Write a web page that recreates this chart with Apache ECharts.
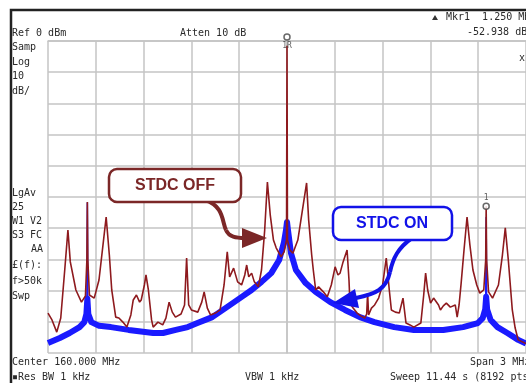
<!DOCTYPE html>
<html>
<head>
<meta charset="utf-8">
<script src="https://cdn.jsdelivr.net/npm/echarts@6/dist/echarts.min.js"></script>
<style>
html,body{margin:0;padding:0;background:#fff;}
#chart{width:526px;height:383px;}
</style>
</head>
<body>
<div id="chart"></div>
<script>
// offset from center (kHz), level (dBm)
var offTrace = [
	[-1500,-87.2],[-1475,-89.4],[-1445,-93.3],[-1420,-88.8],[-1395,-73.4],[-1375,-60.6],[-1360,-70.8],[-1325,-79.8],
	[-1290,-83.7],[-1265,-81.7],[-1256,-70.2],[-1253,-51.6],[-1250,-70.2],[-1240,-81.4],[-1210,-82.4],[-1180,-76.6],
	[-1155,-65.4],[-1135,-56.4],[-1115,-68.6],[-1100,-79.8],[-1075,-88.5],[-1055,-88.8],[-1030,-90.1],[-1005,-91.7],
	[-980,-87.8],[-965,-83.0],[-945,-81.4],[-925,-83.7],[-915,-83.0],[-895,-78.2],[-885,-75.0],[-870,-79.8],
	[-850,-89.4],[-840,-91.7],[-810,-90.1],[-780,-91.0],[-760,-88.8],[-740,-83.7],[-720,-86.9],[-700,-88.5],
	[-665,-87.5],[-643,-84.6],[-630,-69.6],[-617,-84.6],[-600,-86.2],[-560,-86.9],[-535,-83.7],[-520,-80.4],
	[-500,-85.6],[-480,-87.8],[-450,-87.2],[-420,-86.2],[-395,-78.2],[-375,-67.6],[-360,-75.6],[-335,-72.8],
	[-310,-77.2],[-285,-78.2],[-265,-75.0],[-253,-71.8],[-240,-75.6],[-222,-74.4],[-205,-77.2],[-180,-78.8],
	[-160,-73.4],[-140,-60.6],[-123,-45.2],[-105,-55.8],[-85,-63.8],[-68,-66.3],[-37,-69.2],[-18,-67.6],
	[-3,-63.8],[0,-1.5],[3,-63.8],[18,-67.0],[37,-68.0],[68,-63.8],[92,-55.8],[123,-45.5],
	[136,-57.4],[155,-68.6],[165,-73.4],[180,-79.8],[198,-78.8],[210,-78.2],[228,-80.4],[253,-82.0],
	[278,-78.2],[302,-72.4],[320,-75.0],[333,-74.4],[352,-70.8],[377,-67.0],[389,-76.6],[395,-84.0],
	[415,-85.6],[440,-87.2],[463,-88.1],[488,-88.8],[500,-87.5],[506,-80.8],[512,-87.8],[530,-85.6],
	[550,-84.6],[575,-82.4],[600,-78.2],[623,-69.6],[642,-79.8],[655,-86.2],[680,-86.9],[705,-87.2],
	[728,-82.4],[747,-90.4],[772,-91.0],[796,-91.7],[840,-90.4],[858,-81.4],[870,-74.4],[883,-79.8],
	[901,-84.0],[920,-82.4],[932,-82.0],[951,-84.6],[963,-86.2],[981,-84.9],[1000,-84.0],[1025,-85.3],
	[1056,-84.6],[1068,-88.5],[1080,-84.6],[1093,-77.6],[1111,-67.0],[1130,-56.4],[1148,-65.4],[1167,-73.4],
	[1191,-78.2],[1210,-80.8],[1235,-79.8],[1247,-70.2],[1250,-53.0],[1253,-70.2],[1265,-80.4],[1290,-82.4],
	[1302,-83.0],[1327,-78.2],[1352,-68.6],[1370,-59.9],[1389,-70.2],[1414,-86.2],[1432,-92.0],[1451,-95.8],
	[1500,-97.0]
];
var onTrace = [
	[-1500,-96.8],[-1426,-95.2],[-1364,-93.6],[-1302,-91.7],[-1272,-90.1],[-1259,-87.5],[-1253,-82.5],[-1247,-87.5],
	[-1228,-90.1],[-1179,-91.3],[-1105,-91.7],[-994,-92.6],[-840,-93.6],[-778,-93.6],[-698,-92.6],[-623,-91.7],
	[-562,-90.4],[-469,-88.5],[-377,-85.3],[-284,-82.0],[-222,-79.8],[-160,-77.2],[-99,-74.4],[-49,-70.2],
	[-19,-64.5],[-6,-60.5],[0,-58.0],[6,-60.5],[25,-68.0],[56,-73.4],[117,-77.6],[179,-80.4],
	[272,-83.7],[364,-86.2],[457,-88.5],[549,-90.1],[673,-91.7],[796,-92.6],[981,-92.6],[1105,-91.7],
	[1198,-90.4],[1228,-88.8],[1244,-86.0],[1250,-82.0],[1256,-86.0],[1278,-89.4],[1321,-91.7],[1383,-93.6],
	[1451,-95.8],[1500,-97.0]
];
// narrow spur tops of the STDC ON trace
var onSpurLeft = [[-1256,-84.0],[-1253,-51.8],[-1250,-84.0]];
var onSpurRight = [[1247,-84.0],[1250,-56.4],[1253,-84.0]];
var markers = [
	{name:'1R', value:[0, 1.3], pos:'bottom'},
	{name:'1', value:[1250, -53.0], pos:'top'}
];
var leftNotes = [
	['Samp',47],['Log',62],['10',76],['dB/',91],['LgAv',193],['25',207],['W1 V2',221],['S3 FC',235],
	['£(f):',265],['f>50k',281],['Swp',296]
];

function each(arr, fn){
	for(var i=0;i<arr.length;i++){ fn(arr[i]); }
}

function txt(s, x, y, align){
	return {
		type:'text', x:x, y:y, z:50,
		style:{text:s, fill:'#2a2a2a', font:'10px "DejaVu Sans Mono"', textAlign:align||'left', textVerticalAlign:'middle'}
	};
}

function curve(p, color){
	return {type:'bezierCurve', z:70,
		shape:{x1:p[0],y1:p[1],cpx1:p[2],cpy1:p[3],cpx2:p[4],cpy2:p[5],x2:p[6],y2:p[7]},
		style:{stroke:color, lineWidth:4, fill:null}};
}

function buildGraphic(){
	var g = [];
	// outer frame
	g.push({type:'polyline', z:60, shape:{points:[[11,383],[11,10],[526,10]]}, style:{stroke:'#222', lineWidth:2.5, fill:null}});
	g.push(txt('Ref 0 dBm',12,33));
	g.push(txt('Atten 10 dB',180,33));
	g.push({type:'polygon', z:50, shape:{points:[[432,20],[438,20],[435,15]]}, style:{fill:'#333'}});
	g.push(txt('Mkr1  1.250 MHz',446,17));
	g.push(txt('-52.938 dB',467,32));
	g.push(txt('x',519,58));
	each(leftNotes, function(n){ g.push(txt(n[0],12,n[1])); });
	g.push(txt('AA',31,249));
	g.push(txt('Center 160.000 MHz',12,362));
	g.push(txt('\u25aaRes BW 1 kHz',12,377));
	g.push(txt('VBW 1 kHz',245,377));
	g.push(txt('Span 3 MHz',470,362));
	g.push(txt('Sweep 11.44 s (8192 pts)',390,377));

	// STDC OFF callout
	var red = '#7b2727', blue = '#1212e8';
	g.push(curve([205,200, 224,206, 222,222, 226,230], red));
	g.push(curve([226,230, 229,237, 236,238, 245,238], red));
	g.push({type:'polygon', z:70, shape:{points:[[267,238],[242,228],[242,248]]}, style:{fill:red}});
	g.push({type:'rect', z:71, shape:{x:109,y:169,width:132,height:33,r:8}, style:{fill:'#fff', stroke:red, lineWidth:2.5}});
	g.push({type:'text', z:72, x:175, y:186, style:{text:'STDC OFF', fill:red, font:'bold 16px "Liberation Sans"', textAlign:'center', textVerticalAlign:'middle'}});

	// STDC ON callout
	g.push(curve([412,238, 398,248, 393,258, 390,272], blue));
	g.push(curve([390,272, 386,290, 375,294, 356,298], blue));
	g.push({type:'polygon', z:70, shape:{points:[[333,303],[355,289],[359,308]]}, style:{fill:blue}});
	g.push({type:'rect', z:71, shape:{x:333,y:207,width:119,height:33,r:8}, style:{fill:'#fff', stroke:blue, lineWidth:2.5}});
	g.push({type:'text', z:72, x:392, y:224, style:{text:'STDC ON', fill:blue, font:'bold 16px "Liberation Sans"', textAlign:'center', textVerticalAlign:'middle'}});
	return g;
}

function showSpectrum(id){
	var gridColor = '#c4c4c4';
	var mkData = [];
	each(markers, function(m){
		mkData.push({value:m.value, label:{show:true, formatter:m.name, position:m.pos, distance:1, fontSize:8, color:'#333', fontFamily:'DejaVu Sans Mono'}});
	});
	var spurStyle = {color:'#1a1aff', width:1.5};
	echarts.init(document.getElementById(id)).setOption({
		animation:false,
		grid:{left:48, top:41, width:486, height:312},
		xAxis:{
			type:'value', min:-1500, max:1500, interval:300,
			axisLine:{show:true, lineStyle:{color:gridColor, width:1.5}},
			axisTick:{show:false}, axisLabel:{show:false},
			splitLine:{show:true, lineStyle:{color:gridColor, width:1.5}}
		},
		yAxis:{
			type:'value', min:-100, max:0, interval:10,
			axisLine:{show:true, lineStyle:{color:gridColor, width:1.5}},
			axisTick:{show:false}, axisLabel:{show:false},
			splitLine:{show:true, lineStyle:{color:gridColor, width:1.5}}
		},
		series:[{
			name:'STDC ON', type:'line', data:onTrace, showSymbol:false, z:2,
			lineStyle:{color:'#1a1aff', width:6, join:'round'}
		},{
			name:'spurL', type:'line', data:onSpurLeft, showSymbol:false, z:2, lineStyle:spurStyle
		},{
			name:'spurR', type:'line', data:onSpurRight, showSymbol:false, z:2, lineStyle:spurStyle
		},{
			name:'STDC OFF', type:'line', data:offTrace, showSymbol:false, z:3,
			lineStyle:{color:'#8e1a1e', width:1.6}
		},{
			name:'markers', type:'scatter', data:mkData, clip:false, z:4,
			symbol:'circle', symbolSize:6,
			itemStyle:{color:'#fff', borderColor:'#444', borderWidth:1.5}
		}],
		graphic:buildGraphic()
	});
}

showSpectrum('chart');
</script>
</body>
</html>
